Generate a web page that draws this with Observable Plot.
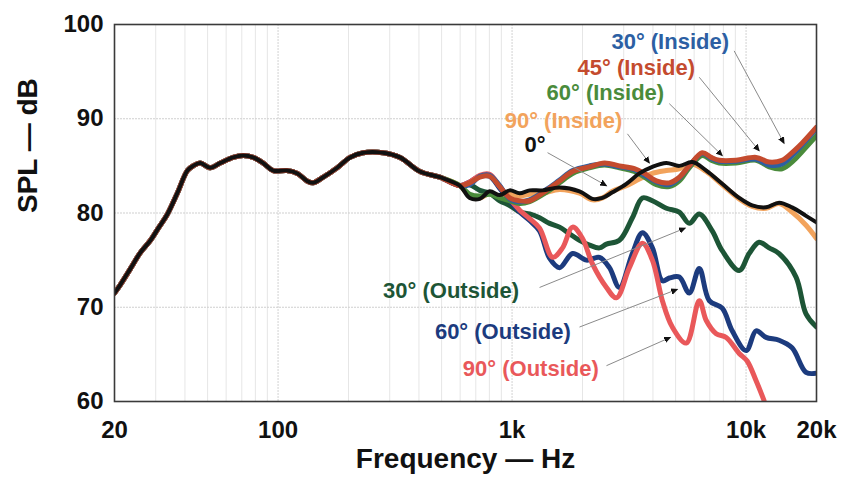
<!DOCTYPE html>
<html>
<head>
<meta charset="utf-8">
<script src="https://cdn.jsdelivr.net/npm/d3@7"></script>
<script src="https://cdn.jsdelivr.net/npm/@observablehq/plot@0.6"></script>
<style>
  html, body { margin: 0; padding: 0; background: #fff; }
  #chart svg { display: block; }
</style>
</head>
<body>
<div id="chart"></div>
<script>
// ---- Data ----
const commonHz = [20, 21.2, 23.4, 25.8, 28.5, 30.8, 33.7, 37.1, 41, 43.4, 46.5, 51.3, 56.6, 64.3, 71, 78.3, 86.4, 95.3, 109, 121, 133, 141, 156, 179, 203, 231, 281, 332, 404, 491, 598];
const commonDb = [71.5, 72.4, 74.1, 75.8, 77.1, 78.4, 79.9, 82.1, 84.5, 85.0, 85.3, 84.8, 85.3, 85.9, 86.1, 85.9, 85.3, 84.5, 84.5, 84.2, 83.4, 83.2, 83.8, 84.8, 85.9, 86.4, 86.4, 85.9, 84.4, 83.8, 82.9];

const axisHz = [659, 728, 802, 886, 977, 1078, 1189, 1350, 1596, 1942, 2206, 2434, 2686, 3080, 3500, 3978, 4564, 5185, 5890, 6760, 7908, 9349, 10618, 12180, 13843, 15726, 18040, 20000];
const deg0Db = [81.6, 81.5, 82.3, 81.9, 82.4, 82.1, 82.4, 82.4, 82.7, 82.3, 81.5, 81.6, 82.2, 83.1, 84.2, 84.9, 85.3, 85.0, 85.4, 84.5, 83.1, 81.6, 80.8, 80.6, 81.1, 80.6, 79.7, 79.0];
const in90Db = [81.8, 81.6, 82.1, 81.8, 82.0, 81.8, 82.0, 82.1, 82.5, 82.1, 81.4, 81.6, 82.3, 82.9, 83.6, 84.2, 84.5, 84.7, 85.2, 84.4, 83.0, 81.5, 80.7, 80.5, 81.0, 80.1, 78.7, 77.3];

const insideHz = [659, 728, 802, 886, 977, 1078, 1189, 1404, 1596, 1814, 2142, 2482, 2876, 3332, 3676, 4136, 4699, 5185, 5720, 6498, 7098, 7680, 9072, 11040, 12548, 14256, 16034, 17340, 20000];
const in45Db = [83.2, 83.8, 83.9, 82.8, 81.6, 81.3, 81.3, 82.4, 83.4, 84.4, 84.9, 85.3, 85.0, 84.7, 84.2, 83.4, 83.2, 83.8, 85.0, 86.4, 85.9, 85.6, 85.6, 85.9, 85.4, 85.6, 86.6, 87.4, 89.1];
const in30Db = [83.0, 83.9, 84.0, 82.9, 81.5, 81.2, 81.4, 82.5, 83.5, 84.5, 85.0, 85.2, 84.9, 84.6, 84.0, 83.3, 83.0, 83.7, 85.0, 86.3, 85.8, 85.5, 85.5, 85.7, 85.1, 85.2, 86.3, 87.2, 89.0];
const in60Db = [82.0, 81.8, 82.0, 81.6, 81.3, 81.0, 81.2, 82.2, 83.2, 84.2, 84.8, 85.1, 84.8, 84.4, 83.8, 83.0, 82.8, 83.4, 84.8, 86.1, 85.6, 85.3, 85.3, 85.6, 84.9, 84.7, 85.6, 86.5, 88.2];

const out30Hz = [659, 728, 802, 886, 977, 1078, 1189, 1311, 1446, 1596, 1760, 1942, 2142, 2363, 2532, 2876, 3268, 3606, 3978, 4564, 5185, 5720, 6310, 7168, 7908, 9349, 10310, 11374, 12548, 13843, 16352, 18040, 20000];
const out30Db = [83.0, 82.4, 82.1, 81.3, 80.8, 80.1, 79.9, 79.5, 78.9, 78.5, 77.8, 77.1, 76.6, 76.3, 76.7, 77.1, 79.5, 81.6, 81.3, 80.5, 80.1, 78.9, 79.9, 78.1, 76.0, 73.9, 75.7, 76.9, 76.3, 75.7, 73.2, 69.3, 67.9];

const out60Hz = [659, 728, 802, 886, 977, 1078, 1189, 1311, 1446, 1596, 1814, 2081, 2363, 2607, 2876, 3268, 3606, 3978, 4389, 4699, 5185, 5720, 6310, 6961, 7908, 8724, 10010, 11040, 12180, 13843, 15726, 18040, 20000];
const out60Db = [83.3, 83.9, 83.9, 82.6, 81.3, 80.1, 79.2, 78.1, 75.2, 74.2, 75.7, 75.0, 75.3, 74.2, 72.1, 75.7, 77.9, 76.3, 72.8, 73.1, 73.2, 71.5, 74.1, 70.7, 69.9, 67.5, 65.4, 67.5, 66.8, 66.5, 65.7, 63.1, 63.0];

const out90Hz = [659, 728, 802, 886, 977, 1078, 1189, 1311, 1490, 1644, 1814, 2000, 2206, 2532, 2792, 3172, 3606, 3978, 4389, 4840, 5552, 6310, 6760, 7454, 8226, 9349, 10106, 11040, 11940];
const out90Db = [83.3, 84.0, 84.1, 82.8, 81.5, 80.3, 79.4, 78.4, 75.3, 76.3, 78.5, 77.3, 74.6, 72.1, 71.0, 74.2, 76.8, 75.0, 70.7, 67.9, 66.2, 70.7, 68.6, 67.2, 66.8, 65.1, 64.3, 62.2, 60.1];

const seriesNames = ["30° (Outside)", "60° (Outside)", "90° (Outside)", "90° (Inside)", "60° (Inside)", "30° (Inside)", "45° (Inside)", "0°"];

const xTicks = [20, 100, 1000, 10000, 20000];
const xTickLabels = ["20", "100", "1k", "10k", "20k"];
const yTicks = [60, 70, 80, 90, 100];
const minorGridHz = [30, 40, 50, 60, 70, 80, 90, 200, 300, 400, 500, 600, 700, 800, 900, 2000, 3000, 4000, 5000, 6000, 7000, 8000, 9000];
const majorGridHz = [100, 1000, 10000];
const gridDb = [70, 80, 90];

// annotation labels: text, label anchor (Hz, dB), arrow from (Hz, dB) to (Hz, dB)
const annoText = ["30° (Inside)", "45° (Inside)", "60° (Inside)", "90° (Inside)", "0°", "30° (Outside)", "60° (Outside)", "90° (Outside)"];
const annoHz = [2658, 1904, 1404, 930, 1131, 281, 468, 616];
const annoDb = [98.2, 95.4, 92.7, 89.8, 87.2, 71.7, 67.4, 63.5];
const arrowFromHz = [8896, 6310, 4699, 3112, 1418, 1311, 1942, 2532];
const arrowFromDb = [97.2, 94.4, 91.6, 88.4, 86.4, 72.1, 67.9, 63.8];
const arrowToHz = [14536, 11374, 7908, 3861, 2532, 5498, 5084, 4746];
const arrowToDb = [87.4, 86.6, 86.1, 85.3, 82.9, 78.4, 71.9, 66.8];

// ---- styling ----
const colors = {
  "30° (Outside)": "#1d5536",
  "60° (Outside)": "#1c3b7e",
  "90° (Outside)": "#e9585a",
  "90° (Inside)": "#f2a35c",
  "60° (Inside)": "#4a8b3b",
  "30° (Inside)": "#2c5fa3",
  "45° (Inside)": "#c44b2e",
  "0°": "#111111"
};
const seriesData = {
  "30° (Outside)": [out30Hz, out30Db],
  "60° (Outside)": [out60Hz, out60Db],
  "90° (Outside)": [out90Hz, out90Db],
  "90° (Inside)": [axisHz, in90Db],
  "60° (Inside)": [insideHz, in60Db],
  "30° (Inside)": [insideHz, in30Db],
  "45° (Inside)": [insideHz, in45Db],
  "0°": [axisHz, deg0Db]
};

function rowsFor(name) {
  const [hz, db] = seriesData[name];
  const rows = commonHz.map((h, i) => ({hz: h, db: commonDb[i]}));
  hz.forEach((h, i) => rows.push({hz: h, db: db[i]}));
  return rows;
}

const annos = annoText.map((t, i) => ({
  text: t, hz: annoHz[i], db: annoDb[i],
  x1: arrowFromHz[i], y1: arrowFromDb[i], x2: arrowToHz[i], y2: arrowToDb[i]
}));

const font = "'Liberation Sans', Arial, Helvetica, sans-serif";

const lineMarks = seriesNames.map(name => Plot.line(rowsFor(name), {
  x: "hz", y: "db", stroke: colors[name],
  strokeWidth: name === "0°" ? 4 : 5,
  curve: "catmull-rom", clip: true, strokeLinejoin: "round"
}));

const chart = Plot.plot({
  width: 843,
  height: 481,
  marginLeft: 114,
  marginRight: 27,
  marginTop: 24,
  marginBottom: 80,
  style: {fontFamily: font, fontSize: "24px", fontWeight: "bold", color: "#111", background: "#fff"},
  x: {type: "log", domain: [20, 20000]},
  y: {domain: [60, 100]},
  marks: [
    Plot.ruleX(minorGridHz, {stroke: "#e6e6e6", strokeWidth: 1}),
    Plot.ruleX(majorGridHz, {stroke: "#d2d2d2", strokeWidth: 1, strokeDasharray: "2,1"}),
    Plot.ruleY(gridDb, {stroke: "#cfcfcf", strokeWidth: 1, strokeDasharray: "2,1"}),
    ...lineMarks,
    Plot.link(annos, {
      x1: "x1", y1: "y1", x2: "x2", y2: "y2",
      stroke: "#8a8a8a", strokeWidth: 1, markerEnd: "arrow"
    }),
    Plot.text(annos, {
      x: "hz", y: "db", text: "text", textAnchor: "start",
      fill: d => colors[d.text], fontSize: 22, fontWeight: "bold"
    }),
    Plot.frame({stroke: "#3a3a3a", strokeWidth: 1.6}),
    Plot.axisX(xTicks, {
      tickSize: 0, tickPadding: 19, label: null,
      tickFormat: d => xTickLabels[xTicks.indexOf(d)],
      fontSize: 24, fontWeight: "bold"
    }),
    Plot.axisY(yTicks, {
      tickSize: 0, tickPadding: 11, label: null, fontSize: 24, fontWeight: "bold"
    }),
    Plot.text(["SPL — dB"], {
      frameAnchor: "left", dx: -86, rotate: -90, text: d => d,
      fontSize: 28, fontWeight: "bold", fill: "#111"
    }),
    Plot.text(["Frequency — Hz"], {
      frameAnchor: "bottom", dy: 66, text: d => d,
      fontSize: 28, fontWeight: "bold", fill: "#111"
    })
  ]
});

// filled black arrowheads for the annotation pointers
d3.select(chart).selectAll("marker").each(function() {
  const m = d3.select(this);
  m.attr("markerUnits", "userSpaceOnUse")
   .attr("markerWidth", 12).attr("markerHeight", 12)
   .attr("viewBox", "-6 -6 12 12")
   .attr("fill", "#111").attr("stroke", "none");
  m.selectAll("*").remove();
  m.append("path").attr("d", "M-7,-3.6L1,0L-7,3.6Z");
});

document.getElementById("chart").appendChild(chart);
</script>
</body>
</html>
